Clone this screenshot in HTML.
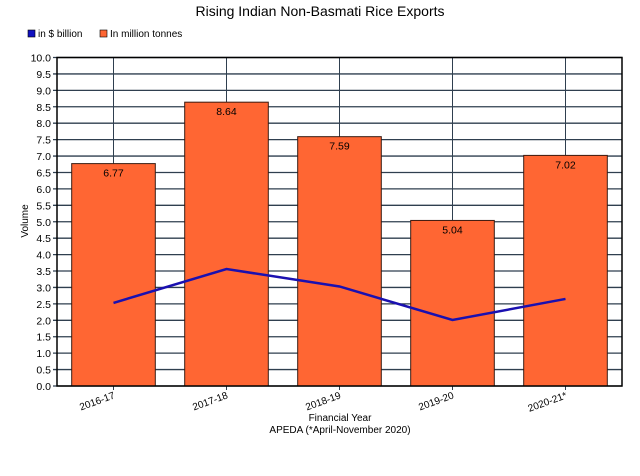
<!DOCTYPE html>
<html><head><meta charset="utf-8"><style>
body{margin:0;background:#fff;font-family:"Liberation Sans",sans-serif}
svg text{font-family:"Liberation Sans",sans-serif}
</style></head><body>
<svg id="c" width="640" height="471" xmlns="http://www.w3.org/2000/svg">
<text x="320" y="16" text-anchor="middle" font-size="14" fill="#000">Rising Indian Non-Basmati Rice Exports</text>
<g>
<rect x="28" y="30" width="7" height="7" fill="#1010c0" stroke="#000" stroke-width="0.6"/>
<text x="38" y="37" font-size="10">in $ billion</text>
<rect x="100" y="30" width="7" height="7" fill="#ff6633" stroke="#000" stroke-width="0.6"/>
<text x="110" y="37" font-size="10">In million tonnes</text>
</g>
<g id="grid"></g><g id="bars"></g><g id="line"></g><g id="axes"></g>
<text x="340" y="421" text-anchor="middle" font-size="10">Financial Year</text>
<text x="340" y="433" text-anchor="middle" font-size="10">APEDA (*April-November 2020)</text>
<text transform="translate(28,221) rotate(-90)" text-anchor="middle" font-size="10">Volume</text>
</svg>
<script>
const categories=["2016-17","2017-18","2018-19","2019-20","2020-21*"];
const tonnes=[6.77,8.64,7.59,5.04,7.02];
const billion=[2.53,3.56,3.03,2.01,2.65];
const yTicks=[0,0.5,1,1.5,2,2.5,3,3.5,4,4.5,5,5.5,6,6.5,7,7.5,8,8.5,9,9.5,10];
const L=57,R=622,T=57.5,B=386,yMax=10;
const ns="http://www.w3.org/2000/svg";
const y=v=>B-(v/yMax)*(B-T);
const band=(R-L)/categories.length;
const xc=i=>L+band*(i+0.5);
function mk(tag,attrs,parent,text){const e=document.createElementNS(ns,tag);for(const k in attrs)e.setAttribute(k,attrs[k]);if(text!==undefined)e.textContent=text;document.getElementById(parent).appendChild(e);return e;}
yTicks.forEach(t=>{
 const g=mk('line',{x1:L-4,x2:R,y1:y(t),y2:y(t),stroke:'#2f3f4f','stroke-width':1.3},'grid');
 
 
 const lb=mk('text',{x:L-6,y:y(t)+4,'text-anchor':'end','font-size':10.5,fill:'#000'},'axes',t.toFixed(1));
 
 
});
categories.forEach((c,i)=>{
 const v=mk('line',{x1:xc(i),x2:xc(i),y1:T,y2:B+4,stroke:'#2f3f4f','stroke-width':1},'grid');
 
 
 const w=band*0.74;
 const b=mk('rect',{x:xc(i)-w/2,y:y(tonnes[i]),width:w,height:B-y(tonnes[i]),fill:'#ff6633',stroke:'#3a1a10','stroke-width':1},'bars');
 
 
 const vl=mk('text',{x:xc(i),y:y(tonnes[i])+13,'text-anchor':'middle','font-size':10.5,fill:'#000'},'bars',tonnes[i].toFixed(2));
 
 
 const xl=mk('text',{transform:`translate(${xc(i)+2},${B+12}) rotate(-20)`,'text-anchor':'end','font-size':10,fill:'#000'},'axes',c);
 
 
});
const p=mk('polyline',{points:billion.map((v,i)=>xc(i)+','+y(v)).join(' '),fill:'none',stroke:'#1a10b0','stroke-width':2.5},'line');


const fr=mk('rect',{x:L,y:T,width:R-L,height:B-T,fill:'none',stroke:'#000','stroke-width':1.5},'axes');


</script>
</body></html>
